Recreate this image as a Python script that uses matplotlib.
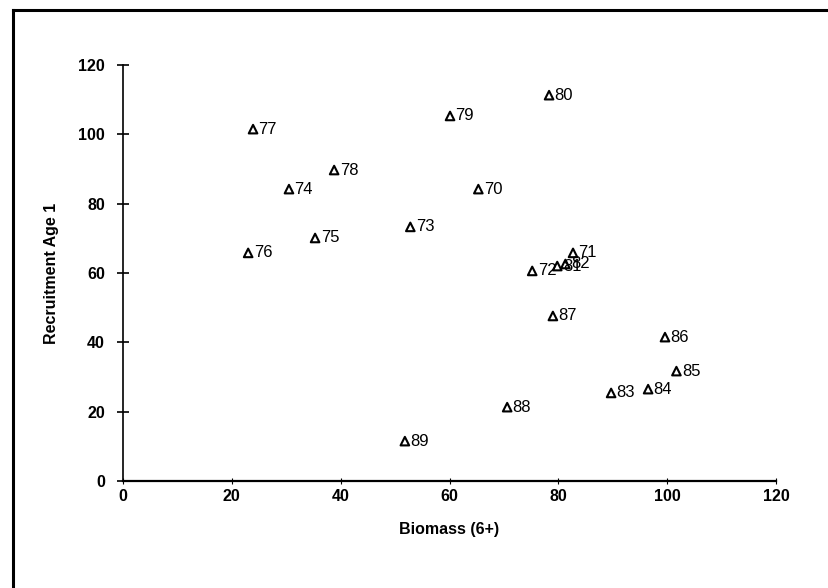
import matplotlib
matplotlib.use("Agg")
import matplotlib.pyplot as plt
from matplotlib.lines import Line2D

plt.rcParams['font.family'] = ['Liberation Sans', 'DejaVu Sans']

labels = ['70', '71', '72', '73', '74', '75', '76', '77', '78', '79',
          '80', '81', '82', '83', '84', '85', '86', '87', '88', '89']
biomass = [65.3, 82.7, 75.2, 52.8, 30.5, 35.3, 23.0, 23.9, 38.8, 60.1,
           78.3, 79.8, 81.3, 89.7, 96.5, 101.7, 99.6, 79.0, 70.6, 51.8]
recruit = [84.2, 65.8, 60.6, 73.3, 84.2, 70.1, 65.8, 101.5, 89.7, 105.3,
           111.3, 62.0, 62.6, 25.4, 26.5, 31.7, 41.5, 47.6, 21.3, 11.5]

xticks = [0, 20, 40, 60, 80, 100, 120]
yticks = [0, 20, 40, 60, 80, 100, 120]

fig = plt.figure(figsize=(8.29, 5.88), dpi=100)
ax = fig.add_axes([123/829, 1-481/588, (776-123)/829, (481-65)/588])

ax.scatter(biomass, recruit, marker='^', s=38, facecolors='none',
           edgecolors='black', linewidths=1.5, zorder=3)
for lab, xv, yv in zip(labels, biomass, recruit):
    ax.annotate(lab, (xv, yv), xytext=(4, 0), textcoords='offset points',
                ha='left', va='center', fontsize=12, color='black')

ax.set_xlim(0, 120)
ax.set_ylim(0, 120)
ax.set_xticks(xticks)
ax.set_yticks(yticks)
ax.set_xticklabels([str(t) for t in xticks], fontweight='bold', fontsize=11.5)
ax.set_yticklabels([str(t) for t in yticks], fontweight='bold', fontsize=11.5)
ax.tick_params(axis='y', direction='inout', length=8, width=1.2, pad=9)
ax.tick_params(axis='x', direction='inout', length=4, width=0.8, pad=4)
for s in ['top', 'right']:
    ax.spines[s].set_visible(False)
ax.spines['left'].set_linewidth(1.2)
ax.spines['bottom'].set_linewidth(1.6)
ax.spines['left'].set_bounds(0, 120)

ax.set_xlabel('Biomass (6+)', fontweight='bold', fontsize=11.5, labelpad=13)
ax.set_ylabel('Recruitment Age 1', fontweight='bold', fontsize=11.5, labelpad=14)

# outer frame (left and top)
fig.add_artist(Line2D([13/829, 13/829], [0, 1-10/588], color='black', lw=2.2,
                      transform=fig.transFigure))
fig.add_artist(Line2D([13/829, 1], [1-10/588, 1-10/588], color='black', lw=2.2,
                      transform=fig.transFigure))

fig.savefig('out.png', dpi=100)
